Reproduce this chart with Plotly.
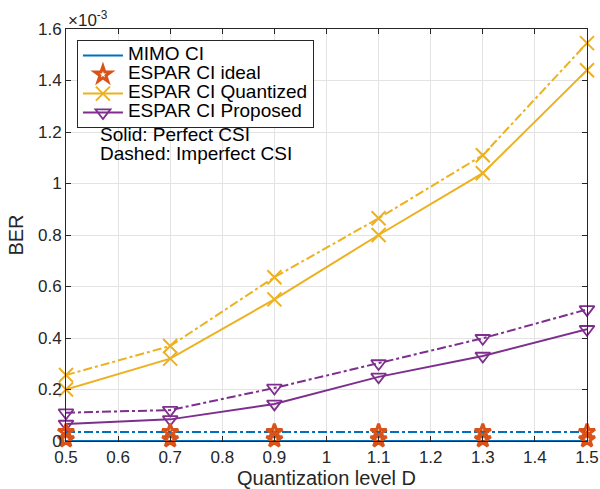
import plotly.graph_objects as go

# Quantization level D
D = [0.5, 0.7, 0.9, 1.1, 1.3, 1.5]

# BER values in units of 1e-3
mimo_perfect = [0.0, 0.0, 0.0, 0.0, 0.0, 0.0]
mimo_imperfect = [0.035, 0.035, 0.035, 0.035, 0.035, 0.035]
ideal_perfect = [0.006, 0.006, 0.006, 0.006, 0.006, 0.006]
ideal_imperfect = [0.035, 0.035, 0.035, 0.035, 0.035, 0.035]
quant_perfect = [0.20, 0.32, 0.55, 0.80, 1.04, 1.44]
quant_imperfect = [0.256, 0.369, 0.636, 0.865, 1.11, 1.545]
prop_perfect = [0.066, 0.084, 0.144, 0.249, 0.33, 0.434]
prop_imperfect = [0.11, 0.12, 0.206, 0.301, 0.399, 0.511]

xticks = [0.5, 0.6, 0.7, 0.8, 0.9, 1.0, 1.1, 1.2, 1.3, 1.4, 1.5]
xticklabels = ["0.5", "0.6", "0.7", "0.8", "0.9", "1", "1.1", "1.2", "1.3", "1.4", "1.5"]
yticks = [0, 0.2, 0.4, 0.6, 0.8, 1.0, 1.2, 1.4, 1.6]
yticklabels = ["0", "0.2", "0.4", "0.6", "0.8", "1", "1.2", "1.4", "1.6"]

legend_names = ["MIMO CI", "ESPAR CI ideal", "ESPAR CI Quantized", "ESPAR CI Proposed"]
note_lines = ["Solid: Perfect CSI", "Dashed: Imperfect CSI"]

BLUE = "#0072BD"
ORANGE = "#D95319"
YELLOW = "#EDB120"
PURPLE = "#7E2F8E"
FONT = "Liberation Sans, Arial, sans-serif"
DASHDOT = "9px,3px,3px,3px"

fig = go.Figure()

def lname(s):
    return '<span style="font-size:19px">' + s + '</span>'

def add(y, name, color, symbol, dash, show, mode="lines+markers", msize=13, mlw=1.6):
    fig.add_trace(go.Scatter(
        x=D, y=y, name=lname(name), mode=mode, showlegend=show, cliponaxis=False,
        line=dict(color=color, width=2, dash=dash),
        marker=dict(symbol=symbol, size=msize, color=color,
                    line=dict(color=color, width=mlw)),
    ))

add(mimo_perfect, legend_names[0], BLUE, "circle", "solid", True, mode="lines", msize=1)
add(ideal_perfect, legend_names[1], ORANGE, "star-open", "solid", True, mode="markers", msize=12, mlw=3)
add(quant_perfect, legend_names[2], YELLOW, "x-thin-open", "solid", True, msize=14, mlw=2)
add(prop_perfect, legend_names[3], PURPLE, "triangle-down-open", "solid", True, msize=13, mlw=1.8)
add(mimo_imperfect, legend_names[0], BLUE, "circle", DASHDOT, False, mode="lines", msize=1)
add(ideal_imperfect, legend_names[1], ORANGE, "star-open", "solid", False, mode="markers", msize=12, mlw=3)
add(quant_imperfect, legend_names[2], YELLOW, "x-thin-open", DASHDOT, False, msize=14, mlw=2)
add(prop_imperfect, legend_names[3], PURPLE, "triangle-down-open", DASHDOT, False, msize=13, mlw=1.8)

axis_common = dict(
    showline=True, linecolor="#262626", linewidth=1, mirror="ticks",
    ticks="inside", ticklen=5, tickcolor="#262626",
    showgrid=True, gridcolor="#e3e3e3", gridwidth=1, zeroline=False,
    automargin=False,
    tickfont=dict(family=FONT, size=17, color="#262626"),
)

fig.update_layout(
    width=600, height=489,
    margin=dict(l=66, r=13, t=29, b=48),
    plot_bgcolor="white", paper_bgcolor="white",
    font=dict(family=FONT, color="#262626"),
    xaxis=dict(range=[0.5, 1.5], tickvals=xticks, ticktext=xticklabels,
               ticklabelstandoff=1,
               title=dict(text="Quantization level D", font=dict(size=20, family=FONT), standoff=1),
               **axis_common),
    yaxis=dict(range=[0, 1.6], tickvals=yticks, ticktext=yticklabels,
               title=dict(text="BER", font=dict(size=20, family=FONT), standoff=8),
               **axis_common),
    legend=dict(x=0.021, y=0.973, xanchor="left", yanchor="top",
                bgcolor="white", bordercolor="#262626", borderwidth=1,
                font=dict(family=FONT, size=12, color="black"),
                tracegroupgap=0, itemwidth=40),
    annotations=[
        dict(text="×10<sup>-3</sup>", xref="paper", yref="paper", x=0.0, y=1.0,
             xanchor="left", yanchor="bottom", showarrow=False,
             font=dict(family=FONT, size=17, color="#262626"), yshift=-3),
        dict(text=note_lines[0], xref="paper", yref="paper",
             x=0.061, y=0.743, xanchor="left", yanchor="middle", align="left", showarrow=False,
             font=dict(family=FONT, size=19, color="black")),
        dict(text=note_lines[1], xref="paper", yref="paper",
             x=0.061, y=0.698, xanchor="left", yanchor="middle", align="left", showarrow=False,
             font=dict(family=FONT, size=19, color="black")),
    ],
)

fig.write_html("out.html")
